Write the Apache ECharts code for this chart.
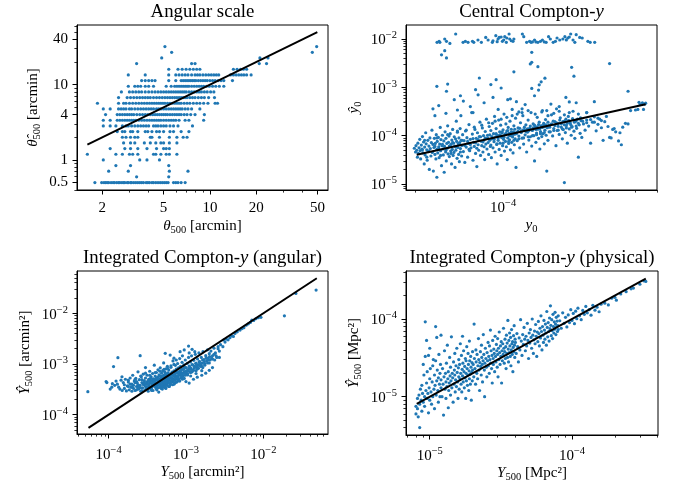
<!DOCTYPE html>
<html><head><meta charset="utf-8">
<script src="https://cdn.jsdelivr.net/npm/echarts@6/dist/echarts.min.js"></script>
<style>html,body{margin:0;padding:0;background:#fff}#c{width:680px;height:483px}</style>
</head><body><div id="c"></div>
<script>
// ---------------- DATA ----------------
// Panel 1: Angular scale (theta500 true vs recovered). Recovered values are quantised levels.
const angLevels = [0.5,0.595,0.707,0.841,1.0,1.189,1.414,1.682,2.0,2.378,2.828,3.364,4.0,4.757,5.657,6.727,8.0,9.514,11.31,13.45,16.0,19.03,22.63,26.91,32.0];
const angRowsX = [
 [1.79,1.98,2.05,2.1,2.15,2.2,2.28,2.35,2.4,2.48,2.55,2.6,2.68,2.75,2.8,2.9,2.95,3.05,3.1,3.2,3.3,3.4,3.5,3.6,3.7,3.85,3.95,4.05,4.2,4.3,4.45,4.6,4.75,4.9,5.05,5.2,5.35,5.8,6.0,6.2,6.5,6.9],
 [3.34,5.4],
 [2.2,2.95,5.45,7.2],
 [2.45,3.05,5.4],
 [2.03,3.5,3.9,4.7],
 [1.6,2.45,2.7,3.0,3.15,3.4,4.3,4.45,4.8,5.2,5.45,6.1],
 [2.25,2.8,3.05,3.4,3.9,4.5,5.0,5.2,5.45],
 [2.75,3.05,3.25,3.75,4.1,4.45,4.8,5.0,5.45,6.1],
 [2.7,2.85,3.05,3.25,3.4,4.1,4.2,4.7,5.45,6.1,6.7,7.1],
 [2.5,2.7,2.8,3.05,3.15,3.4,3.8,3.95,4.2,4.5,4.7,5.0,5.5,5.8,6.5,7.3],
 [2.03,2.25,2.45,2.7,2.85,2.95,3.1,3.25,3.4,3.55,3.7,3.85,4.0,4.3,4.45,4.6,4.8,5.0,5.2,5.5,5.8,6.2,7.7],
 [2.03,2.25,2.5,2.6,2.7,2.8,2.9,3.0,3.1,3.2,3.3,3.45,3.6,3.75,3.9,4.05,4.2,4.35,4.5,4.65,4.8,5.0,5.2,5.4,5.6,5.8,6.0,6.3,6.9,7.3,9.1],
 [2.1,2.5,2.6,2.7,2.8,2.9,3.0,3.1,3.2,3.35,3.5,3.65,3.8,3.95,4.1,4.25,4.4,4.55,4.7,4.85,5.0,5.15,5.3,5.5,5.7,5.9,6.1,6.3,6.5,6.8,7.1,7.5,8.0,9.2],
 [2.03,2.25,2.55,2.65,2.75,2.85,3.0,3.1,3.25,3.4,3.55,3.7,3.85,4.0,4.15,4.3,4.5,4.65,4.8,5.0,5.2,5.4,5.6,5.8,6.0,6.2,6.4,6.6,6.9,7.2,7.6,8.6],
 [1.86,2.55,2.75,2.85,3.0,3.15,3.3,3.45,3.6,3.75,3.9,4.05,4.2,4.35,4.5,4.65,4.8,4.95,5.1,5.3,5.5,5.7,5.9,6.1,6.3,6.5,6.8,7.1,7.4,7.8,8.2,8.6,9.1,9.7,10.8,11.2],
 [2.55,2.9,3.05,3.2,3.35,3.5,3.65,3.8,3.95,4.1,4.3,4.5,4.7,4.9,5.1,5.3,5.5,5.7,5.9,6.1,6.3,6.5,6.7,6.9,7.1,7.4,7.7,8.0,8.4,8.8,9.2,9.8,10.7],
 [2.66,3.0,3.15,3.3,3.45,3.6,3.8,4.0,4.2,4.4,4.6,4.8,5.0,5.2,5.4,5.6,5.8,6.0,6.2,6.4,6.6,6.8,7.0,7.3,7.6,7.9,8.2,8.5,8.8,9.2,9.6,10.1,10.6],
 [2.95,3.25,3.4,3.55,3.8,4.0,4.3,5.2,5.6,5.9,6.1,6.3,6.5,6.7,6.9,7.1,7.3,7.6,7.9,8.2,8.5,8.8,9.1,9.5,9.9,10.4,10.9,11.5,12.3],
 [3.6,3.8,4.0,4.2,4.4,5.4,6.0,6.5,6.7,6.9,7.1,7.3,7.5,7.7,7.9,8.1,8.4,8.7,9.0,9.3,9.6,10.0,10.4,10.8,11.3,11.8,12.3,14.0],
 [2.95,3.8,5.4,6.0,6.3,6.6,6.9,7.2,7.6,8.0,8.3,8.6,9.0,9.4,9.8,10.2,10.6,11.0,11.4,13.6,14.2,14.8,15.4,16.0,16.6,17.3,18.5],
 [5.4,6.2,6.6,7.0,7.4,7.8,8.2,8.6,14.2,15.0,15.8,16.5,17.3],
 [3.34,7.6,8.0,20.9,23.3],
 [4.86,21.1,23.8],
 [5.64,46.2],
 [5.1,49.3]
];
const angFit = [[1.6,1.6],[49.8,49.8]];

// Panel 2: Central Compton-y
const cenBand = [[5.01e-5,8.53e-3],[5.12e-5,8.95e-3],[5.16e-5,8.53e-3],[5.43e-5,1.0e-2],[5.53e-5,8.95e-3],[5.73e-5,8.1e-3],[6.09e-5,1.27e-2],[6.58e-5,8.53e-3],[6.74e-5,8.95e-3],[6.93e-5,8.53e-3],[7.26e-5,8.95e-3],[7.36e-5,8.53e-3],[7.69e-5,9.54e-3],[7.97e-5,8.53e-3],[8.34e-5,1.08e-2],[8.55e-5,9.54e-3],[8.94e-5,8.53e-3],[9.0e-5,9.2e-3],[9.27e-5,1.17e-2],[9.4e-5,8.8e-3],[9.49e-5,1.0e-2],[9.6e-5,1.08e-2],[9.8e-5,1.1e-2],[9.93e-5,8.95e-3],[1.007e-4,9.54e-3],[1.018e-4,1.12e-2],[1.035e-4,8.53e-3],[1.04e-4,1.05e-2],[1.065e-4,1.27e-2],[1.072e-4,1.0e-2],[1.09e-4,9.2e-3],[1.11e-4,8.95e-3],[1.12e-4,1.0e-2],[1.224e-4,1.27e-2],[1.242e-4,1.12e-2],[1.28e-4,8.53e-3],[1.32e-4,8.95e-3],[1.34e-4,8.53e-3],[1.36e-4,8.7e-3],[1.39e-4,9.54e-3],[1.41e-4,8.7e-3],[1.44e-4,8.53e-3],[1.48e-4,8.95e-3],[1.51e-4,9.54e-3],[1.54e-4,8.7e-3],[1.57e-4,8.53e-3],[1.61e-4,1.12e-2],[1.64e-4,1.0e-2],[1.69e-4,8.53e-3],[1.73e-4,8.95e-3],[1.76e-4,1.05e-2],[1.81e-4,9.54e-3],[1.87e-4,1.0e-2],[1.91e-4,1.12e-2],[1.94e-4,9.6e-3],[1.97e-4,1.05e-2],[2.0e-4,1.1e-2],[2.03e-4,1.27e-2],[2.08e-4,9.54e-3],[2.12e-4,8.53e-3],[2.15e-4,1.23e-2],[2.23e-4,1.08e-2],[2.29e-4,1.05e-2],[2.43e-4,8.95e-3],[2.49e-4,8.53e-3],[2.61e-4,8.53e-3]];
const cenOutliers = [[5.25e-5,4.7e-3],[5.43e-5,5.75e-3],[5.53e-5,4.06e-3],[5.0e-5,1.05e-3],[5.6e-5,1.17e-3],[5.53e-5,8.3e-4],[5.1e-5,4.2e-4],[6.0e-5,5.56e-4],[7.8e-5,1.56e-3],[6.4e-5,6.7e-4],[6.6e-5,5.2e-4],[7.5e-5,8.96e-4],[7.7e-5,7.0e-4],[8.8e-5,1.14e-3],[9.3e-5,1.44e-3],[9.8e-5,9.7e-4],[1.05e-4,5.56e-4],[1.12e-4,2.1e-3],[1.15e-4,5.06e-4],[1.22e-4,3.6e-4],[1.33e-4,3.05e-3],[1.35e-4,3.3e-3],[1.35e-4,5.3e-3],[1.35e-4,9.5e-4],[1.39e-4,6.7e-4],[1.44e-4,2.68e-3],[1.46e-4,1.13e-3],[1.49e-4,1.3e-3],[1.55e-4,1.55e-3],[1.45e-4,8.8e-4],[1.93e-4,6.2e-4],[2.05e-4,2.6e-3],[2.1e-4,1.7e-3],[3.05e-4,3.1e-3],[3.7e-4,8.3e-4],[2.6e-4,5.06e-4],[2.15e-4,4.8e-4],[2.0e-4,5.0e-4],[9.0e-5,6.2e-4],[8.2e-5,4.8e-4],[1.08e-4,5.8e-4],[1.26e-4,4.4e-4],[1.65e-4,4.5e-4],[1.8e-4,4.0e-4],[7.1e-5,4.0e-4],[6.2e-5,3.4e-4],[4.9e-5,2.6e-4],[4.8e-5,3.6e-4],[5.5e-5,2.9e-4],[7.3e-5,3.0e-4],[9.5e-5,3.5e-4],[1.18e-4,3.1e-4],[1.58e-4,3.3e-4],[1.75e-4,3.6e-4],[2.4e-4,3.0e-4],[4.35e-4,3.5e-4],[4.45e-4,4.7e-4],[4.15e-4,4.9e-4]];
const cenCloud = [
 [3.95e-5,5.5e-5],[4.0e-5,4.6e-5],[4.02e-5,6.2e-5],[4.05e-5,5.0e-5],[4.08e-5,3.6e-5],[4.1e-5,7.0e-5],[4.12e-5,4.3e-5],[4.15e-5,5.6e-5],[4.18e-5,8.4e-5],[4.2e-5,4.9e-5],[4.22e-5,3.3e-5],[4.25e-5,6.4e-5],[4.28e-5,5.3e-5],[4.3e-5,9.6e-5],[4.32e-5,4.4e-5],[4.35e-5,7.4e-5],[4.38e-5,2.6e-5],[4.4e-5,5.8e-5],[4.42e-5,4.0e-5],[4.45e-5,1.15e-4],[4.47e-5,6.8e-5],[4.5e-5,5.1e-5],[4.52e-5,3.1e-5],[4.55e-5,8.0e-5],[4.57e-5,4.7e-5],[4.6e-5,6.1e-5],[4.62e-5,2.0e-5],[4.65e-5,9.0e-5],[4.67e-5,5.4e-5],[4.7e-5,3.8e-5],[4.72e-5,7.2e-5],[4.75e-5,1.3e-4],[4.77e-5,4.5e-5],[4.8e-5,6.6e-5],[4.82e-5,1.85e-5],[4.85e-5,5.7e-5],[4.87e-5,8.8e-5],[4.9e-5,4.1e-5],[4.92e-5,6.9e-5],[4.95e-5,3.3e-5],[4.97e-5,1.05e-4],[5.0e-5,5.2e-5],[5.0e-5,1.38e-5],
 [5.02e-5,7.6e-5],[5.05e-5,4.4e-5],[5.08e-5,9.2e-5],[5.1e-5,5.9e-5],[5.12e-5,3.5e-5],[5.15e-5,6.7e-5],[5.18e-5,1.48e-4],[5.2e-5,4.9e-5],[5.22e-5,8.3e-5],[5.25e-5,2.4e-5],[5.28e-5,6.2e-5],[5.3e-5,1.02e-4],[5.33e-5,5.3e-5],[5.35e-5,4.0e-5],[5.38e-5,7.8e-5],[5.4e-5,1.75e-5],[5.42e-5,6.0e-5],[5.45e-5,1.2e-4],[5.48e-5,4.6e-5],[5.5e-5,8.8e-5],[5.52e-5,3.0e-5],[5.55e-5,6.9e-5],[5.58e-5,5.5e-5],[5.6e-5,1.6e-4],[5.62e-5,4.2e-5],[5.65e-5,7.3e-5],[5.68e-5,9.8e-5],[5.7e-5,3.7e-5],[5.72e-5,5.9e-5],[5.75e-5,1.1e-4],[5.78e-5,4.8e-5],[5.8e-5,6.6e-5],[5.83e-5,2.6e-5],[5.85e-5,8.1e-5],[5.88e-5,5.2e-5],[5.9e-5,1.35e-4],[5.93e-5,3.9e-5],[5.95e-5,7.0e-5],[5.98e-5,4.5e-5],[6.0e-5,9.5e-5],[6.03e-5,6.1e-5],[6.05e-5,2.2e-5],[6.08e-5,8.6e-5],[6.1e-5,5.0e-5],[6.13e-5,2.0e-4],[6.15e-5,7.6e-5],[6.18e-5,3.4e-5],[6.2e-5,1.18e-4],[6.23e-5,5.7e-5],[6.25e-5,6.8e-5],[6.28e-5,4.1e-5],[6.3e-5,9.0e-5],[6.33e-5,2.9e-5],[6.35e-5,7.2e-5],[6.38e-5,1.4e-4],[6.4e-5,5.4e-5],[6.43e-5,2.6e-4],[6.45e-5,8.0e-5],[6.48e-5,3.8e-5],
 [6.5e-5,6.3e-5],[6.55e-5,1.05e-4],[6.6e-5,4.7e-5],[6.65e-5,7.9e-5],[6.7e-5,2.8e-5],[6.75e-5,1.25e-4],[6.8e-5,5.8e-5],[6.85e-5,9.1e-5],[6.9e-5,3.6e-5],[6.95e-5,6.9e-5],[7.0e-5,1.7e-4],[7.05e-5,4.9e-5],[7.1e-5,8.4e-5],[7.15e-5,5.6e-5],[7.2e-5,3.0e-4],[7.25e-5,1.08e-4],[7.3e-5,3.1e-5],[7.35e-5,7.3e-5],[7.4e-5,6.0e-5],[7.45e-5,1.35e-4],[7.5e-5,4.3e-5],[7.55e-5,8.8e-5],[7.6e-5,2.3e-5],[7.65e-5,1.15e-4],[7.7e-5,6.5e-5],[7.75e-5,5.0e-5],[7.8e-5,9.6e-5],[7.85e-5,1.9e-4],[7.9e-5,3.9e-5],[7.95e-5,7.7e-5],[8.0e-5,6.2e-5],[8.05e-5,1.45e-4],[8.1e-5,4.6e-5],[8.15e-5,1.0e-4],[8.2e-5,8.1e-5],[8.25e-5,3.2e-5],[8.3e-5,1.22e-4],[8.35e-5,6.7e-5],[8.4e-5,2.2e-4],[8.45e-5,5.3e-5],[8.5e-5,9.0e-5],
 [8.55e-5,7.2e-5],[8.6e-5,4.1e-5],[8.65e-5,1.55e-4],[8.7e-5,1.04e-4],[8.75e-5,6.0e-5],[8.8e-5,1.28e-4],[8.85e-5,3.5e-5],[8.9e-5,8.6e-5],[8.95e-5,1.8e-4],[9.0e-5,5.6e-5],[9.05e-5,1.1e-4],[9.1e-5,7.5e-5],[9.15e-5,2.5e-4],[9.2e-5,4.6e-5],[9.25e-5,9.5e-5],[9.3e-5,1.4e-4],[9.35e-5,6.6e-5],[9.4e-5,2.6e-5],[9.45e-5,1.02e-4],[9.5e-5,8.0e-5],[9.55e-5,2.1e-4],[9.6e-5,5.2e-5],[9.65e-5,1.2e-4],[9.7e-5,7.0e-5],[9.75e-5,1.65e-4],[9.8e-5,3.9e-5],[9.85e-5,9.2e-5],[9.9e-5,1.14e-4],[9.95e-5,6.2e-5],[1.0e-4,1.32e-4],[1.005e-4,8.4e-5],[1.01e-4,2.8e-4],[1.015e-4,4.8e-5],[1.02e-4,1.06e-4],[1.025e-4,7.6e-5],[1.03e-4,1.75e-4],[1.035e-4,5.9e-5],[1.04e-4,1.25e-4],[1.045e-4,3.2e-5],[1.05e-4,9.0e-5],[1.055e-4,1.48e-4],[1.06e-4,6.9e-5],[1.065e-4,1.12e-4],[1.07e-4,8.2e-5],[1.075e-4,2.0e-4],[1.08e-4,5.1e-5],[1.085e-4,1.0e-4],[1.09e-4,1.36e-4],[1.095e-4,7.3e-5],[1.1e-4,3.5e-4],[1.105e-4,9.4e-5],[1.11e-4,4.4e-5],[1.115e-4,1.2e-4],[1.12e-4,1.6e-4],[1.125e-4,6.5e-5],[1.13e-4,1.07e-4],[1.135e-4,8.6e-5],[1.14e-4,2.3e-4],[1.145e-4,2.2e-5],
 [1.15e-4,1.16e-4],[1.16e-4,7.9e-5],[1.17e-4,1.45e-4],[1.18e-4,9.8e-5],[1.19e-4,5.6e-5],[1.2e-4,1.85e-4],[1.21e-4,1.25e-4],[1.22e-4,8.9e-5],[1.23e-4,2.6e-4],[1.24e-4,6.7e-5],[1.25e-4,1.34e-4],[1.26e-4,1.04e-4],[1.27e-4,1.68e-4],[1.28e-4,4.6e-5],[1.29e-4,1.18e-4],[1.3e-4,2.1e-4],[1.31e-4,8.1e-5],[1.32e-4,1.42e-4],[1.33e-4,9.5e-5],[1.34e-4,3.0e-4],[1.35e-4,6.1e-5],[1.36e-4,1.28e-4],[1.37e-4,1.75e-4],[1.38e-4,1.0e-4],[1.39e-4,3.0e-5],[1.4e-4,1.52e-4],[1.41e-4,7.3e-5],[1.42e-4,1.13e-4],[1.43e-4,2.4e-4],[1.44e-4,1.36e-4],[1.45e-4,8.8e-5],[1.46e-4,1.9e-4],[1.47e-4,5.3e-5],[1.48e-4,1.21e-4],[1.49e-4,1.58e-4],[1.5e-4,9.6e-5],[1.51e-4,3.3e-4],[1.52e-4,1.1e-4],[1.53e-4,1.7e-4],[1.54e-4,6.8e-5],[1.55e-4,1.3e-4],[1.56e-4,2.15e-4],[1.57e-4,1.02e-4],[1.58e-4,1.85e-5],[1.59e-4,1.46e-4],
 [1.6e-4,8.0e-5],[1.62e-4,1.65e-4],[1.64e-4,1.2e-4],[1.66e-4,2.7e-4],[1.68e-4,9.9e-5],[1.7e-4,1.4e-4],[1.72e-4,1.95e-4],[1.74e-4,6.2e-5],[1.76e-4,1.28e-4],[1.78e-4,1.78e-4],[1.8e-4,1.06e-4],[1.82e-4,2.35e-4],[1.84e-4,1.5e-4],[1.86e-4,8.6e-5],[1.88e-4,1.34e-4],[1.9e-4,1.07e-5],[1.9e-4,2.0e-4],[1.92e-4,1.16e-4],[1.94e-4,1.62e-4],[1.96e-4,7.0e-5],[1.98e-4,2.5e-4],[2.0e-4,1.38e-4],[2.02e-4,1.85e-4],[2.04e-4,1.02e-4],[2.06e-4,1.54e-4],[2.08e-4,3.2e-4],[2.1e-4,1.24e-4],[2.12e-4,8.8e-5],[2.14e-4,1.98e-4],[2.16e-4,1.42e-4],[2.18e-4,2.2e-4],[2.2e-4,3.6e-5],[2.22e-4,1.68e-4],[2.24e-4,1.12e-4],[2.26e-4,2.05e-4],[2.28e-4,9.2e-5],
 [2.32e-4,1.75e-4],[2.36e-4,1.3e-4],[2.4e-4,2.1e-4],[2.45e-4,1.58e-4],[2.5e-4,7.0e-5],[2.55e-4,1.9e-4],[2.6e-4,2.45e-4],[2.65e-4,1.26e-4],[2.7e-4,1.72e-4],[2.75e-4,2.2e-4],[2.8e-4,1.46e-4],[2.85e-4,8.0e-5],[2.9e-4,1.95e-4],[2.95e-4,2.5e-4],[3.0e-4,1.55e-4],[3.05e-4,9.2e-5],[3.1e-4,9.0e-5],[3.15e-4,1.35e-4],[3.2e-4,1.4e-4],[3.25e-4,1.2e-4],
 [3.35e-4,7.8e-5],[3.45e-4,6.5e-5],[3.5e-4,1.5e-4],[3.6e-4,1.8e-4],[3.7e-4,1.75e-4],[3.8e-4,3.3e-4],[4.0e-4,3.4e-4],[4.1e-4,3.5e-4],[4.2e-4,4.4e-4],[4.3e-4,4.8e-4],[4.4e-4,4.5e-4],[3.4e-4,1.15e-4]
];
const cenCore = [[4.3e-5,5.1e-5],[4.6e-5,4.8e-5],[4.9e-5,6.0e-5],[5.1e-5,5.4e-5],[5.3e-5,6.6e-5],[5.5e-5,5.0e-5],[5.7e-5,6.1e-5],[5.9e-5,7.2e-5],[6.1e-5,5.8e-5],[6.3e-5,6.9e-5],[6.5e-5,8.0e-5],[6.7e-5,6.3e-5],[6.9e-5,7.6e-5],[7.1e-5,6.6e-5],[7.3e-5,8.7e-5],[7.5e-5,7.1e-5],[7.7e-5,8.3e-5],[7.9e-5,9.5e-5],[8.1e-5,7.4e-5],[8.3e-5,8.9e-5],[8.5e-5,1.02e-4],[8.7e-5,8.0e-5],[8.9e-5,9.6e-5],[9.1e-5,8.4e-5],[9.3e-5,1.1e-4],[9.5e-5,9.0e-5],[9.7e-5,1.04e-4],[9.9e-5,1.2e-4],[1.01e-4,9.3e-5],[1.03e-4,1.12e-4],[1.05e-4,1.28e-4],[1.07e-4,1.0e-4],[1.09e-4,1.18e-4],[1.11e-4,1.06e-4],[1.13e-4,1.36e-4],[1.15e-4,1.1e-4],[1.17e-4,1.25e-4],[1.19e-4,1.42e-4],[1.21e-4,1.16e-4],[1.23e-4,1.3e-4],[1.25e-4,1.5e-4],[1.27e-4,1.22e-4],[1.29e-4,1.38e-4],[1.31e-4,1.26e-4],[1.33e-4,1.58e-4],[1.35e-4,1.32e-4],[1.37e-4,1.46e-4],[1.39e-4,1.65e-4],[1.41e-4,1.35e-4],[1.43e-4,1.52e-4],[1.45e-4,1.7e-4],[1.47e-4,1.4e-4],[1.49e-4,1.6e-4],[1.51e-4,1.48e-4],[1.53e-4,1.8e-4],[1.55e-4,1.55e-4],[1.57e-4,1.68e-4],[1.6e-4,1.9e-4],[1.63e-4,1.5e-4],[1.66e-4,1.75e-4],[1.69e-4,2.0e-4],[1.72e-4,1.62e-4],[1.75e-4,1.85e-4],[1.78e-4,1.56e-4],[1.81e-4,2.1e-4],[1.84e-4,1.76e-4],[1.87e-4,1.95e-4],[1.9e-4,1.68e-4],[1.93e-4,2.2e-4],[1.96e-4,1.8e-4],[1.99e-4,2.05e-4],[2.03e-4,1.7e-4],[2.07e-4,2.25e-4],[2.11e-4,1.9e-4],[2.15e-4,2.1e-4],[2.2e-4,1.8e-4],[2.25e-4,2.35e-4],[2.3e-4,2.0e-4],[2.4e-4,1.85e-4],[2.5e-4,2.15e-4],[2.6e-4,1.9e-4],[2.7e-4,2.3e-4],[2.8e-4,2.05e-4],
 [4.5e-5,3.6e-5],[5.2e-5,3.9e-5],[5.8e-5,4.3e-5],[6.4e-5,4.6e-5],[7.0e-5,5.2e-5],[7.6e-5,5.5e-5],[8.2e-5,5.9e-5],[8.8e-5,6.4e-5],[9.4e-5,6.8e-5],[1.0e-4,7.0e-5],[1.06e-4,7.6e-5],[1.12e-4,8.0e-5],[1.18e-4,8.6e-5],[1.24e-4,9.0e-5],[1.3e-4,9.5e-5],[1.36e-4,1.0e-4],[1.42e-4,1.05e-4],[1.48e-4,1.1e-4],[1.54e-4,1.16e-4],[1.62e-4,1.2e-4],[1.7e-4,1.28e-4],[1.78e-4,1.3e-4],[1.86e-4,1.38e-4],[1.94e-4,1.45e-4],[2.05e-4,1.5e-4],[2.15e-4,1.58e-4],
 [4.4e-5,8.0e-5],[5.0e-5,9.0e-5],[5.6e-5,1.05e-4],[6.2e-5,1.25e-4],[6.8e-5,1.3e-4],[7.4e-5,1.5e-4],[8.0e-5,1.65e-4],[8.6e-5,1.85e-4],[9.2e-5,2.0e-4],[9.8e-5,2.2e-4],[1.04e-4,2.4e-4],[1.1e-4,2.6e-4],[1.16e-4,2.8e-4],[1.22e-4,3.0e-4],[1.3e-4,3.3e-4],[1.4e-4,2.8e-4],[1.5e-4,3.1e-4],[1.6e-4,2.6e-4],[1.7e-4,2.9e-4],[1.8e-4,3.2e-4],[1.9e-4,2.7e-4],[2.0e-4,3.0e-4],[2.2e-4,2.8e-4],[2.4e-4,3.0e-4]];
const cenFit = [[4.05e-5,4.05e-5],[4.45e-4,4.45e-4]];

// Panel 3: Integrated Compton-y (angular)
const yangMain = [[0.54e-4,2.85e-4],[0.93e-4,4.5e-4],[0.95e-4,4.3e-4],[1.05e-4,3.2e-4],[1.1e-4,3.5e-4],[1.16e-4,8.9e-4],[1.32e-4,1.33e-3],[1.49e-4,5.6e-4],[2.56e-4,1.46e-3],[5.4e-4,1.62e-3],[1.08e-3,2.26e-3],[1.12e-4,4.1e-4],[1.2e-4,3.8e-4],
 [1.25e-4,4.6e-4],[1.3e-4,4.0e-4],[1.35e-4,3.5e-4],[1.4e-4,3.2e-4],[1.45e-4,4.8e-4],[1.5e-4,3.0e-4],[1.55e-4,4.3e-4],[1.6e-4,3.3e-4],[1.65e-4,5.0e-4],[1.7e-4,2.95e-4],[1.75e-4,3.7e-4],[1.8e-4,4.4e-4],[1.85e-4,3.1e-4],[1.9e-4,5.3e-4],[1.95e-4,3.5e-4],[2.0e-4,4.0e-4],[2.0e-4,2.9e-4],[2.05e-4,6.0e-4],[2.1e-4,3.3e-4],[2.15e-4,4.6e-4],[2.2e-4,3.0e-4],[2.25e-4,5.2e-4],[2.3e-4,3.6e-4],[2.35e-4,4.2e-4],[2.4e-4,7.0e-4],[2.45e-4,3.2e-4],[2.5e-4,4.9e-4],[2.55e-4,3.8e-4],[2.6e-4,2.9e-4],[2.65e-4,5.6e-4],[2.7e-4,4.3e-4],[2.75e-4,3.4e-4],[2.8e-4,6.3e-4],[2.85e-4,3.9e-4],[2.9e-4,4.7e-4],[2.95e-4,3.1e-4],[3.0e-4,5.3e-4],[3.0e-4,8.5e-4],[3.05e-4,4.0e-4],[3.1e-4,3.5e-4],[3.15e-4,6.0e-4],[3.2e-4,4.5e-4],[3.25e-4,2.9e-4],[3.3e-4,5.0e-4],[3.35e-4,3.7e-4],[3.4e-4,7.2e-4],[3.45e-4,4.2e-4],[3.5e-4,3.2e-4],[3.55e-4,5.6e-4],[3.6e-4,4.7e-4],[3.65e-4,3.9e-4],[3.7e-4,6.5e-4],[3.75e-4,3.0e-4],[3.8e-4,5.1e-4],[3.85e-4,4.4e-4],[3.9e-4,9.5e-4],[3.95e-4,3.6e-4],[4.0e-4,5.8e-4],[4.05e-4,4.9e-4],[4.1e-4,3.3e-4],[4.15e-4,6.8e-4],[4.2e-4,4.1e-4],[4.25e-4,5.4e-4],[4.3e-4,3.8e-4],[4.35e-4,7.7e-4],[4.4e-4,4.6e-4],[4.45e-4,2.8e-4],[4.5e-4,6.1e-4],[4.55e-4,5.0e-4],[4.6e-4,3.5e-4],[4.65e-4,8.4e-4],[4.7e-4,4.3e-4],[4.75e-4,5.7e-4],[4.8e-4,3.9e-4],[4.85e-4,6.6e-4],[4.9e-4,4.8e-4],[4.95e-4,3.2e-4],[5.0e-4,7.4e-4],[5.05e-4,5.3e-4],[5.1e-4,4.1e-4],[5.15e-4,1.05e-3],[5.2e-4,6.0e-4],[5.25e-4,3.7e-4],[5.3e-4,4.9e-4],[5.35e-4,6.9e-4],[5.4e-4,3.4e-4],[5.45e-4,5.6e-4],[5.5e-4,8.0e-4],[5.55e-4,4.5e-4],[5.6e-4,6.3e-4],[5.65e-4,3.9e-4],[5.7e-4,5.1e-4],[5.75e-4,9.0e-4],[5.8e-4,4.3e-4],[5.85e-4,6.7e-4],[5.9e-4,5.5e-4],[5.95e-4,3.6e-4],[6.0e-4,7.6e-4],[6.1e-4,4.9e-4],[6.2e-4,6.0e-4],[6.3e-4,4.1e-4],[6.4e-4,8.6e-4],[6.5e-4,5.4e-4],[6.6e-4,6.9e-4],[6.7e-4,4.5e-4],[6.8e-4,1.15e-3],[6.9e-4,5.9e-4],[7.0e-4,7.3e-4],[7.1e-4,4.8e-4],[7.2e-4,6.4e-4],[7.3e-4,9.4e-4],[7.4e-4,5.2e-4],[7.5e-4,7.9e-4],[7.6e-4,4.4e-4],[7.7e-4,6.8e-4],[7.8e-4,1.02e-3],[7.9e-4,5.7e-4],[8.0e-4,8.4e-4],[8.1e-4,5.0e-4],[8.2e-4,7.1e-4],[8.3e-4,1.28e-3],[8.4e-4,6.2e-4],[8.5e-4,9.0e-4],[8.6e-4,5.4e-4],[8.7e-4,7.6e-4],[8.8e-4,6.6e-4],[8.9e-4,1.08e-3],[9.0e-4,8.0e-4],[9.2e-4,5.9e-4],[9.4e-4,9.6e-4],[9.6e-4,7.0e-4],[9.8e-4,1.2e-3],[1.0e-3,8.5e-4],[1.02e-3,6.5e-4],[1.04e-3,1.03e-3],[1.06e-3,7.6e-4],[1.08e-3,1.35e-3],[1.1e-3,9.1e-4],[1.12e-3,7.0e-4],[1.14e-3,1.1e-3],[1.16e-3,8.2e-4],[1.18e-3,1.45e-3],[1.2e-3,9.7e-4],[1.23e-3,7.6e-4],[1.26e-3,1.18e-3],[1.29e-3,8.8e-4],[1.32e-3,1.55e-3],[1.35e-3,1.04e-3],[1.38e-3,8.3e-4],[1.41e-3,1.26e-3],[1.44e-3,9.5e-4],[1.47e-3,1.65e-3],[1.5e-3,1.12e-3],[1.54e-3,9.0e-4],[1.58e-3,1.35e-3],[1.62e-3,1.04e-3],[1.66e-3,1.75e-3],[1.7e-3,1.22e-3],[1.75e-3,1.0e-3],[1.8e-3,1.46e-3],[1.85e-3,1.16e-3],[1.9e-3,1.9e-3],[1.95e-3,1.32e-3],[2.0e-3,1.6e-3],[2.05e-3,1.2e-3],[2.1e-3,1.8e-3],[2.2e-3,1.45e-3],[2.3e-3,2.05e-3],[2.4e-3,1.65e-3],[2.5e-3,1.35e-3],[2.6e-3,2.2e-3],[2.7e-3,1.8e-3],[2.7e-3,1.35e-3],[2.8e-3,2.4e-3]];
const yangCore = [[2.6e-4,3.4e-4],[2.8e-4,4.0e-4],[3.0e-4,3.6e-4],[3.1e-4,4.4e-4],[3.3e-4,3.9e-4],[3.4e-4,5.0e-4],[3.5e-4,4.5e-4],[3.6e-4,3.5e-4],[3.7e-4,4.1e-4],[3.8e-4,4.8e-4],[3.9e-4,3.8e-4],[4.0e-4,4.3e-4],[4.1e-4,5.2e-4],[4.2e-4,3.6e-4],[4.3e-4,4.7e-4],[4.4e-4,5.6e-4],[4.5e-4,4.0e-4],[4.6e-4,4.9e-4],[4.7e-4,3.7e-4],[4.8e-4,5.3e-4],[4.9e-4,4.4e-4],[5.0e-4,3.5e-4],[5.1e-4,5.9e-4],[5.2e-4,4.6e-4],[5.3e-4,4.1e-4],[5.4e-4,6.3e-4],[5.5e-4,5.0e-4],[5.6e-4,3.8e-4],[5.7e-4,5.7e-4],[5.8e-4,4.7e-4],[5.9e-4,6.5e-4],[6.0e-4,4.2e-4],[6.2e-4,5.4e-4],[6.4e-4,4.6e-4],[6.6e-4,6.1e-4],[6.8e-4,5.0e-4],[7.0e-4,4.0e-4],[7.2e-4,5.8e-4],[7.4e-4,6.6e-4],[7.6e-4,5.2e-4],[7.8e-4,4.6e-4],[8.0e-4,6.0e-4],[8.3e-4,7.0e-4],[8.6e-4,6.1e-4],[9.0e-4,5.0e-4],[9.3e-4,6.8e-4],[9.6e-4,8.6e-4],[1.0e-3,7.2e-4],[1.05e-3,6.1e-4],[1.1e-3,8.0e-4],[1.2e-3,7.0e-4],[1.3e-3,9.0e-4],[1.4e-3,8.0e-4],[1.5e-3,1.0e-3],[1.6e-3,9.0e-4],[2.3e-4,3.1e-4],[2.4e-4,3.9e-4],[2.2e-4,4.3e-4],[2.0e-4,3.5e-4],[1.9e-4,4.0e-4],[1.8e-4,3.6e-4],[2.7e-4,3.0e-4],[3.2e-4,3.3e-4],[3.6e-4,3.0e-4],[4.2e-4,3.1e-4],[4.8e-4,3.3e-4],[5.5e-4,3.3e-4],[6.1e-4,3.6e-4],[6.7e-4,3.9e-4],[7.3e-4,4.3e-4],[8.0e-4,4.8e-4],[8.8e-4,5.5e-4],[9.8e-4,6.0e-4],[1.15e-3,6.8e-4],[1.35e-3,7.4e-4],[1.65e-3,8.5e-4],[1.9e-3,1.05e-3],[2.2e-3,1.25e-3],[2.45e-3,1.45e-3],[1.0e-3,4.5e-4],[1.1e-3,4.2e-4],[1.25e-3,5.0e-4],[1.4e-3,5.5e-4],[1.6e-3,6.0e-4],[1.8e-3,6.6e-4],[2.0e-3,7.5e-4],[2.2e-3,8.5e-4],[6.25e-4,1.5e-3],[8.4e-4,1.75e-3],[9.5e-4,1.89e-3],[7.0e-4,1.3e-3],[7.5e-4,1.2e-3],[9.0e-4,1.45e-3],[1.1e-3,1.65e-3],[1.2e-3,1.95e-3],[1.3e-3,1.75e-3]];
const yangCore2 = [[2.1e-4,3.8e-4],[2.3e-4,4.5e-4],[2.5e-4,3.6e-4],[2.7e-4,4.9e-4],[2.9e-4,4.2e-4],[3.1e-4,3.3e-4],[3.3e-4,4.6e-4],[3.5e-4,5.3e-4],[3.7e-4,3.9e-4],[3.9e-4,4.5e-4],[4.1e-4,4.0e-4],[4.3e-4,5.0e-4],[4.5e-4,4.4e-4],[4.7e-4,5.8e-4],[4.9e-4,3.9e-4],[5.1e-4,4.8e-4],[5.3e-4,5.5e-4],[5.5e-4,4.3e-4],[5.7e-4,6.2e-4],[5.9e-4,4.9e-4],[6.1e-4,5.6e-4],[6.3e-4,4.4e-4],[6.5e-4,6.5e-4],[6.7e-4,5.3e-4],[6.9e-4,4.8e-4],[7.1e-4,6.2e-4],[7.3e-4,5.4e-4],[7.5e-4,7.0e-4],[7.7e-4,5.8e-4],[7.9e-4,5.0e-4],[8.1e-4,6.6e-4],[8.5e-4,7.4e-4],[8.9e-4,6.2e-4],[9.3e-4,7.8e-4],[9.7e-4,6.6e-4],[1.01e-3,8.3e-4],[1.06e-3,7.4e-4],[1.11e-3,8.9e-4],[1.16e-3,7.8e-4],[1.22e-3,9.6e-4],[1.28e-3,8.4e-4],[1.34e-3,1.02e-3],[1.4e-3,9.2e-4],[1.48e-3,1.1e-3],[1.56e-3,1.0e-3],[1.64e-3,1.2e-3],[1.73e-3,1.1e-3],[1.82e-3,1.3e-3],[1.92e-3,1.2e-3],[2.02e-3,1.4e-3],[2.15e-3,1.3e-3],[2.3e-3,1.55e-3],[3.4e-4,6.0e-4],[4.0e-4,6.8e-4],[4.6e-4,7.2e-4],[5.2e-4,7.8e-4],[5.8e-4,8.2e-4],[6.4e-4,9.2e-4],[7.0e-4,9.8e-4],[2.6e-4,5.8e-4],[3.0e-4,6.6e-4],[2.2e-4,5.0e-4],[1.8e-4,4.8e-4],[1.6e-4,3.9e-4],[2.4e-4,3.3e-4],[3.6e-4,3.2e-4],[4.4e-4,3.4e-4],[5.3e-4,3.6e-4],[6.2e-4,3.9e-4],[7.1e-4,4.2e-4],[8.3e-4,4.6e-4],[9.5e-4,5.2e-4],[1.15e-3,5.8e-4],[1.35e-3,6.5e-4],[1.6e-3,7.4e-4],[3.2e-4,4.0e-4],[3.8e-4,4.2e-4],[4.6e-4,4.5e-4],[5.6e-4,4.6e-4],[6.6e-4,4.9e-4],[7.8e-4,5.4e-4],[9.0e-4,5.8e-4],[1.05e-3,6.5e-4],[1.25e-3,7.5e-4],[1.45e-3,8.2e-4],[1.75e-3,9.5e-4],[2.0e-3,1.05e-3],[2.35e-3,1.2e-3]];
const yangTail = [[2.6e-3,2.0e-3],[3.0e-3,2.2e-3],[3.05e-3,2.97e-3],[3.2e-3,2.7e-3],[3.3e-3,3.1e-3],[3.5e-3,3.0e-3],[3.7e-3,3.3e-3],[3.9e-3,3.6e-3],[4.1e-3,3.5e-3],[4.3e-3,4.0e-3],[4.6e-3,4.3e-3],[5.0e-3,4.67e-3],[5.3e-3,5.0e-3],[5.6e-3,5.2e-3],[6.0e-3,5.8e-3],[6.4e-3,6.2e-3],[6.8e-3,6.6e-3],[7.1e-3,7.3e-3],[7.5e-3,7.2e-3],[8.0e-3,7.8e-3],[8.6e-3,8.2e-3],[9.3e-3,8.3e-3],[1.87e-2,8.9e-3],[2.63e-2,2.46e-2],[4.8e-2,2.87e-2]];
const yangFit = [[5.5e-5,5.5e-5],[4.9e-2,4.9e-2]];

// Panel 4: Integrated Compton-y (physical)
const yphys = [
 [0.80e-5,0.60e-5],[0.80e-5,0.75e-5],[0.82e-5,0.95e-5],[0.82e-5,0.70e-5],[0.83e-5,0.55e-5],[0.84e-5,1.05e-5],[0.85e-5,0.80e-5],[0.85e-5,0.40e-5],[0.86e-5,1.25e-5],[0.87e-5,0.90e-5],[0.88e-5,0.65e-5],[0.88e-5,1.4e-5],[0.89e-5,1.1e-5],[0.90e-5,0.85e-5],[0.90e-5,2.6e-5],[0.91e-5,1.9e-5],[0.92e-5,1.0e-5],[0.92e-5,0.75e-5],[0.93e-5,3.3e-5],[0.93e-5,9.2e-5],[0.94e-5,1.2e-5],[0.95e-5,5.3e-5],[0.95e-5,1.5e-5],[0.96e-5,0.95e-5],[0.96e-5,2.1e-5],[0.97e-5,1.1e-5],[0.98e-5,3.4e-5],[0.98e-5,0.62e-5],[0.99e-5,1.3e-5],[1.0e-5,1.7e-5],[1.0e-5,0.9e-5],[1.0e-5,4.2e-5],[1.01e-5,2.3e-5],[1.02e-5,1.15e-5],[1.03e-5,0.8e-5],[1.04e-5,1.55e-5],[1.05e-5,2.5e-5],[1.05e-5,1.0e-5],[1.06e-5,3.0e-5],[1.07e-5,1.25e-5],[1.08e-5,1.9e-5],[1.08e-5,0.7e-5],[1.09e-5,1.4e-5],[1.1e-5,2.9e-5],[1.1e-5,8.0e-5],[1.11e-5,1.05e-5],[1.12e-5,1.6e-5],[1.12e-5,5.8e-5],[1.13e-5,2.2e-5],[1.14e-5,1.2e-5],[1.15e-5,1.75e-5],[1.15e-5,0.85e-5],[1.16e-5,3.5e-5],[1.17e-5,1.45e-5],[1.18e-5,2.0e-5],[1.18e-5,1.0e-5],[1.19e-5,2.6e-5],[1.2e-5,1.3e-5],[1.2e-5,6.2e-5],[1.2e-5,1.65e-5],
 [1.22e-5,1.0e-5],[1.23e-5,2.3e-5],[1.24e-5,1.45e-5],[1.25e-5,0.58e-5],[1.26e-5,1.8e-5],[1.27e-5,3.9e-5],[1.28e-5,1.25e-5],[1.29e-5,2.0e-5],[1.3e-5,1.55e-5],[1.3e-5,0.95e-5],[1.31e-5,2.7e-5],[1.32e-5,1.35e-5],[1.33e-5,4.6e-5],[1.34e-5,1.7e-5],[1.35e-5,0.72e-5],[1.35e-5,2.1e-5],[1.36e-5,1.2e-5],[1.37e-5,1.5e-5],[1.38e-5,3.2e-5],[1.39e-5,1.85e-5],[1.4e-5,1.05e-5],[1.4e-5,2.4e-5],[1.41e-5,1.6e-5],[1.42e-5,5.9e-5],[1.43e-5,1.3e-5],[1.44e-5,2.0e-5],[1.45e-5,1.75e-5],[1.46e-5,0.85e-5],[1.47e-5,2.8e-5],[1.48e-5,1.45e-5],[1.49e-5,2.2e-5],[1.5e-5,1.9e-5],[1.5e-5,3.6e-5],[1.51e-5,1.15e-5],[1.52e-5,1.65e-5],[1.53e-5,2.5e-5],[1.54e-5,1.35e-5],[1.55e-5,4.2e-5],[1.56e-5,2.05e-5],[1.57e-5,1.55e-5],[1.58e-5,0.95e-5],[1.59e-5,2.35e-5],[1.6e-5,1.8e-5],[1.6e-5,3.0e-5],[1.61e-5,1.25e-5],[1.62e-5,2.6e-5],[1.63e-5,1.7e-5],[1.64e-5,4.8e-5],[1.65e-5,2.0e-5],[1.66e-5,1.45e-5],[1.67e-5,3.4e-5],[1.68e-5,1.15e-5],[1.69e-5,2.25e-5],[1.7e-5,1.85e-5],[1.7e-5,6.0e-5],[1.71e-5,2.7e-5],[1.72e-5,1.55e-5],[1.73e-5,3.9e-5],[1.74e-5,2.1e-5],[1.75e-5,1.3e-5],[1.76e-5,2.45e-5],[1.77e-5,1.75e-5],[1.78e-5,3.1e-5],[1.79e-5,0.95e-5],[1.8e-5,2.0e-5],[1.8e-5,2.9e-5],[1.81e-5,1.6e-5],[1.82e-5,4.4e-5],[1.83e-5,2.3e-5],[1.84e-5,1.4e-5],[1.85e-5,1.9e-5],[1.86e-5,3.6e-5],[1.87e-5,2.6e-5],[1.88e-5,1.2e-5],[1.89e-5,2.15e-5],[1.9e-5,1.7e-5],[1.9e-5,5.2e-5],[1.91e-5,2.9e-5],[1.92e-5,1.95e-5],[1.93e-5,1.45e-5],[1.94e-5,3.3e-5],[1.95e-5,2.4e-5],[1.96e-5,0.9e-5],[1.97e-5,2.05e-5],[1.98e-5,2.75e-5],[1.99e-5,1.6e-5],[2.0e-5,3.8e-5],[2.0e-5,2.2e-5],
 [2.02e-5,2.6e-5],[2.04e-5,1.8e-5],[2.05e-5,8.6e-5],[2.06e-5,3.1e-5],[2.08e-5,2.3e-5],[2.1e-5,1.45e-5],[2.11e-5,4.0e-5],[2.12e-5,2.8e-5],[2.14e-5,2.0e-5],[2.15e-5,3.5e-5],[2.17e-5,1.7e-5],[2.18e-5,2.5e-5],[2.2e-5,5.6e-5],[2.21e-5,3.0e-5],[2.22e-5,2.2e-5],[2.24e-5,1.2e-5],[2.25e-5,2.75e-5],[2.27e-5,3.8e-5],[2.28e-5,2.45e-5],[2.3e-5,1.9e-5],[2.31e-5,4.6e-5],[2.32e-5,3.2e-5],[2.34e-5,2.6e-5],[2.35e-5,1.55e-5],[2.37e-5,2.9e-5],[2.38e-5,6.3e-5],[2.4e-5,3.5e-5],[2.42e-5,2.2e-5],[2.43e-5,1.0e-5],[2.44e-5,2.7e-5],[2.46e-5,4.2e-5],[2.48e-5,3.1e-5],[2.5e-5,2.4e-5],[2.52e-5,1.8e-5],[2.53e-5,3.7e-5],[2.55e-5,2.9e-5],[2.57e-5,5.0e-5],[2.58e-5,2.5e-5],[2.6e-5,3.3e-5],[2.62e-5,2.0e-5],[2.63e-5,4.5e-5],[2.65e-5,3.0e-5],[2.67e-5,7.2e-5],[2.68e-5,2.7e-5],[2.7e-5,3.9e-5],[2.72e-5,2.3e-5],[2.74e-5,3.4e-5],[2.75e-5,1.5e-5],[2.77e-5,5.3e-5],[2.79e-5,3.1e-5],[2.8e-5,2.6e-5],[2.82e-5,4.1e-5],[2.84e-5,3.6e-5],[2.86e-5,2.1e-5],[2.88e-5,6.0e-5],[2.9e-5,3.3e-5],[2.92e-5,2.8e-5],[2.94e-5,4.7e-5],[2.96e-5,3.9e-5],[2.98e-5,2.4e-5],[3.0e-5,3.5e-5],[3.0e-5,5.6e-5],[3.02e-5,1.8e-5],[3.04e-5,4.2e-5],[3.06e-5,3.0e-5],[3.08e-5,6.8e-5],[3.1e-5,3.7e-5],[3.12e-5,2.6e-5],[3.14e-5,4.5e-5],[3.16e-5,3.3e-5],[3.18e-5,5.1e-5],[3.2e-5,1.5e-5],[3.22e-5,3.9e-5],[3.24e-5,2.9e-5],[3.26e-5,4.8e-5],[3.28e-5,3.5e-5],[3.3e-5,7.6e-5],[3.32e-5,4.2e-5],[3.34e-5,2.7e-5],[3.36e-5,3.8e-5],[3.38e-5,5.5e-5],[3.4e-5,3.1e-5],[3.42e-5,4.4e-5],[3.44e-5,2.3e-5],[3.46e-5,6.2e-5],[3.48e-5,3.6e-5],[3.5e-5,4.9e-5],[3.52e-5,3.2e-5],[3.54e-5,9.6e-5],[3.56e-5,4.1e-5],[3.58e-5,2.8e-5],[3.6e-5,5.3e-5],[3.62e-5,3.7e-5],[3.64e-5,6.6e-5],[3.66e-5,4.5e-5],[3.68e-5,3.3e-5],[3.7e-5,5.8e-5],[3.72e-5,2.5e-5],[3.74e-5,4.0e-5],[3.76e-5,7.3e-5],[3.78e-5,4.8e-5],[3.8e-5,3.5e-5],[3.82e-5,5.1e-5],[3.84e-5,2.1e-5],[3.86e-5,4.3e-5],[3.88e-5,6.1e-5],[3.9e-5,3.8e-5],[3.92e-5,8.2e-5],[3.94e-5,4.6e-5],[3.96e-5,3.2e-5],[3.98e-5,5.5e-5],
 [4.0e-5,5.0e-5],[4.05e-5,3.6e-5],[4.1e-5,6.5e-5],[4.15e-5,4.4e-5],[4.2e-5,2.8e-5],[4.25e-5,5.7e-5],[4.3e-5,4.0e-5],[4.35e-5,9.8e-5],[4.4e-5,5.2e-5],[4.45e-5,3.4e-5],[4.5e-5,6.3e-5],[4.55e-5,4.7e-5],[4.6e-5,7.8e-5],[4.65e-5,5.5e-5],[4.7e-5,3.9e-5],[4.75e-5,6.0e-5],[4.8e-5,4.5e-5],[4.85e-5,8.8e-5],[4.9e-5,5.3e-5],[4.95e-5,3.1e-5],[5.0e-5,6.6e-5],[5.05e-5,4.9e-5],[5.1e-5,7.3e-5],[5.15e-5,5.8e-5],[5.2e-5,4.2e-5],[5.25e-5,1.0e-4],[5.3e-5,6.2e-5],[5.35e-5,3.6e-5],[5.4e-5,5.4e-5],[5.45e-5,7.0e-5],[5.5e-5,4.8e-5],[5.55e-5,8.5e-5],[5.6e-5,6.0e-5],[5.65e-5,3.3e-5],[5.7e-5,6.8e-5],[5.75e-5,5.1e-5],[5.8e-5,9.3e-5],[5.85e-5,6.5e-5],[5.9e-5,4.5e-5],[5.95e-5,7.6e-5],[6.0e-5,5.7e-5],[6.05e-5,1.1e-4],[6.1e-5,6.9e-5],[6.15e-5,4.0e-5],[6.2e-5,8.0e-5],[6.25e-5,6.2e-5],[6.3e-5,5.0e-5],[6.35e-5,9.6e-5],[6.4e-5,7.2e-5],[6.45e-5,5.5e-5],[6.5e-5,8.6e-5],[6.55e-5,6.6e-5],[6.6e-5,4.6e-5],[6.65e-5,1.25e-4],[6.7e-5,7.8e-5],[6.75e-5,5.9e-5],[6.8e-5,9.0e-5],[6.85e-5,6.9e-5],[6.9e-5,5.2e-5],[6.95e-5,1.03e-4],[7.0e-5,7.5e-5],[7.05e-5,1.48e-4],[7.1e-5,8.3e-5],[7.15e-5,6.1e-5],[7.2e-5,9.8e-5],[7.25e-5,7.1e-5],[7.3e-5,5.6e-5],[7.35e-5,1.15e-4],[7.4e-5,8.0e-5],[7.45e-5,6.6e-5],[7.5e-5,9.2e-5],[7.55e-5,7.4e-5],[7.6e-5,1.22e-4],[7.65e-5,8.6e-5],[7.7e-5,6.3e-5],[7.75e-5,1.05e-4],[7.8e-5,7.9e-5],[7.85e-5,9.4e-5],[7.9e-5,6.9e-5],[7.95e-5,8.2e-5],[8.0e-5,1.1e-4],[8.0e-5,7.3e-5],
 [8.2e-5,9.5e-5],[8.4e-5,7.6e-5],[8.6e-5,1.2e-4],[8.8e-5,8.8e-5],[9.0e-5,1.05e-4],[9.2e-5,7.9e-5],[9.4e-5,1.13e-4],[9.6e-5,9.0e-5],[9.8e-5,1.32e-4],[1.0e-4,9.6e-5],[1.02e-4,1.18e-4],[1.04e-4,8.7e-5],[1.06e-4,1.26e-4],[1.08e-4,1.01e-4],[1.1e-4,1.38e-4],[1.13e-4,1.1e-4],[1.16e-4,9.8e-5],[1.19e-4,1.29e-4],[1.22e-4,1.15e-4],[1.25e-4,1.45e-4],[1.28e-4,1.2e-4],[1.32e-4,1.32e-4],[1.36e-4,1.12e-4],[1.4e-4,1.5e-4],[1.45e-4,1.3e-4],[1.5e-4,1.42e-4],[1.55e-4,1.24e-4],[1.6e-4,1.55e-4],[1.7e-4,1.6e-4],[1.8e-4,1.52e-4],[1.9e-4,1.85e-4],[2.0e-4,1.9e-4],[2.05e-4,1.75e-4],[2.2e-4,2.1e-4],[2.4e-4,2.25e-4],[2.6e-4,2.45e-4],[2.7e-4,2.5e-4],[3.0e-4,2.8e-4],[3.2e-4,3.1e-4],[3.3e-4,3.05e-4]
];
const yphysFit = [[8.1e-6,8.1e-6],[3.3e-4,3.3e-4]];

// tick labels
const p1xTicks=[2,5,10,20,50], p1yTicks=[0.5,1,4,10,40];
const p2xTicks=[1e-4], p2yTicks=[1e-5,1e-4,1e-3,1e-2];
const p3xTicks=[1e-4,1e-3,1e-2], p3yTicks=[1e-4,1e-3,1e-2];
const p4xTicks=[1e-5,1e-4], p4yTicks=[1e-5,1e-4];

// ---------------- CHART ----------------
const FONT = "'Liberation Serif','DejaVu Serif',serif";
const BLUE = '#1f77b4';
const FS = 15;
function minorsIn(lo, hi, skip){
  const out=[];
  for(let e=-7;e<=2;e++){ for(let m=1;m<=9;m++){ const v=+(m+'e'+e); if(v>=lo&&v<=hi&&!skip.some(s=>Math.abs(s-v)/v<1e-6)) out.push(v);} }
  return out;
}
function pow10(v){ const e=Math.round(Math.log10(v)); return '{b|10}{s|'+(e<0?'\u2212':'')+Math.abs(e)+'}'; }
function plain(v){ return '{b|'+(+v.toPrecision(3))+'}'; }
const labelRich = { b:{fontFamily:FONT,fontSize:FS,color:'#000',verticalAlign:'bottom'}, s:{fontFamily:FONT,fontSize:10.5,color:'#000',verticalAlign:'top',padding:[0,0,7,0]} };
const nameRich = { i:{fontFamily:FONT,fontSize:FS,fontStyle:'italic',color:'#000'}, sub:{fontFamily:FONT,fontSize:10.5,color:'#000',verticalAlign:'top',padding:[8,0,0,0]} };

function axisPair(isX, grid, min, max, majors, fmt, name, nameGap, margin){
  const minors = minorsIn(min, max, majors);
  const major = {
    type:'log', logBase:10, gridIndex:grid, min:min, max:max, position:isX?'bottom':'left',
    axisLine:{show:true,onZero:false,lineStyle:{color:'#000',width:1}},
    axisTick:{show:true,inside:false,length:4.5,lineStyle:{color:'#000',width:1},customValues:majors},
    axisLabel:{show:true,margin:margin,customValues:majors,formatter:fmt,color:'#000',fontFamily:FONT,fontSize:FS,rich:labelRich},
    splitLine:{show:false}, minorTick:{show:false},
    name:name, nameLocation:'middle', nameGap:nameGap,
    nameTextStyle:{fontFamily:FONT,fontSize:FS,color:'#000',rich:nameRich}
  };
  const minor = {
    type:'log', logBase:10, gridIndex:grid, min:min, max:max, position:isX?'bottom':'left',
    axisLine:{show:false,onZero:false},
    axisTick:{show:true,inside:false,length:2.6,lineStyle:{color:'#000',width:0.8},customValues:minors},
    axisLabel:{show:false}, splitLine:{show:false}
  };
  return [major, minor];
}

const angPts = [];
angLevels.forEach((lv,i)=>angRowsX[i].forEach(x=>angPts.push([x,lv])));

const grids = [
  {left:77, top:25, width:251, height:165},
  {left:406, top:25, width:251, height:165},
  {left:77, top:271, width:251, height:163},
  {left:406, top:271, width:252, height:164}
].map(g=>Object.assign(g,{show:true,borderColor:'#000',borderWidth:1,backgroundColor:'transparent',containLabel:false,outerBoundsMode:'none'}));

const xAxes = [].concat(
  axisPair(true,0,1.37,58.4,p1xTicks,plain,'{i|θ}{sub|500} [arcmin]',27,10.5),
  axisPair(true,1,3.62e-5,5.01e-4,p2xTicks,pow10,'{i|y}{sub|0}',26,8),
  axisPair(true,2,3.91e-5,6.84e-2,p3xTicks,pow10,'{i|Y}{sub|500} [arcmin²]',29,10.5),
  axisPair(true,3,6.81e-6,4.02e-4,p4xTicks,pow10,'{i|Y}{sub|500} [Mpc²]',29,10.5)
);
const yAxes = [].concat(
  axisPair(false,0,0.398,62,p1yTicks,plain,'{i|θ\u0302}{sub|500} [arcmin]',34,9),
  axisPair(false,1,7.52e-6,1.95e-2,p2yTicks,pow10,'{i|ŷ}{sub|0}',42,9),
  axisPair(false,2,4.17e-5,6.81e-2,p3yTicks,pow10,'{i|Ŷ}{sub|500} [arcmin²]',42,9),
  axisPair(false,3,3.21e-6,4.15e-4,p4yTicks,pow10,'{i|Ŷ}{sub|500} [Mpc²]',42,9)
);

function scat(i,data){ return {type:'scatter',xAxisIndex:2*i,yAxisIndex:2*i,data:data,symbol:'circle',symbolSize:3.2,itemStyle:{color:BLUE,opacity:1},silent:true,z:2}; }
function fit(i,data){ return {type:'line',xAxisIndex:2*i,yAxisIndex:2*i,data:data,showSymbol:false,symbol:'none',lineStyle:{color:'#000',width:2},silent:true,z:3}; }

const TFS = 18.8;
const titleRich = {i:{fontFamily:FONT,fontSize:TFS,fontStyle:'italic',fill:'#000'}};
function title(x,y,text){ return {type:'text',x:x,y:y,silent:true,style:{text:text,fill:'#000',fontFamily:FONT,fontSize:TFS,align:'center',verticalAlign:'middle',rich:titleRich}}; }

const chart = echarts.init(document.getElementById('c'), null, {renderer:'canvas'});
chart.setOption({
  animation:false, backgroundColor:'#fff',
  grid:grids, xAxis:xAxes, yAxis:yAxes,
  series:[
    scat(0,angPts), fit(0,angFit),
    scat(1,cenBand.concat(cenOutliers,cenCloud,cenCore)), fit(1,cenFit),
    scat(2,yangMain.concat(yangCore,yangCore2,yangTail)), fit(2,yangFit),
    scat(3,yphys), fit(3,yphysFit)
  ],
  graphic:[
    title(202.5,12,'Angular scale'),
    title(531.5,12,'Central Compton-{i|y}'),
    title(202.5,258,'Integrated Compton-{i|y} (angular)'),
    title(532,258,'Integrated Compton-{i|y} (physical)')
  ]
});
</script></body></html>
